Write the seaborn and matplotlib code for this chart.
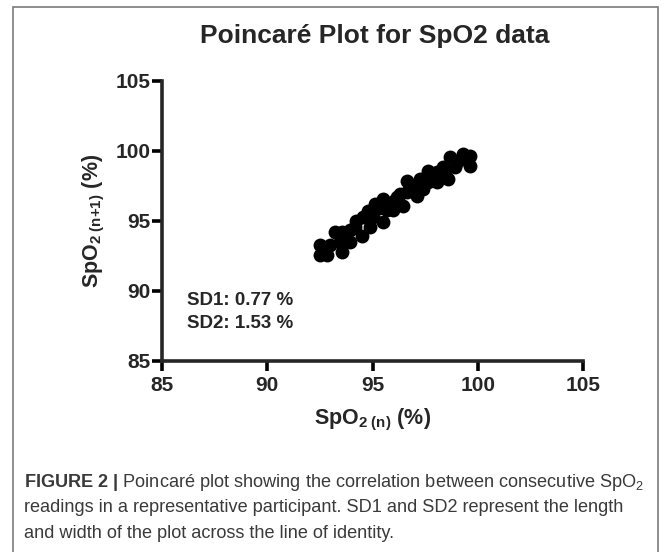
import numpy as np
import pandas as pd
import matplotlib
matplotlib.use("Agg")
import matplotlib.pyplot as plt
import matplotlib.patches as patches
import seaborn as sns

# consecutive SpO2 readings (n, n+1)
spo2_n = [92.51, 92.51, 92.84, 93.22, 93.55, 93.46, 93.93, 93.55, 94.17, 94.55,
          94.50, 94.88, 95.12, 95.50, 95.50, 95.69, 95.97, 96.16, 96.45, 96.64,
          96.64, 96.92, 97.11, 97.40, 97.64, 97.64, 98.06, 98.06, 98.35, 98.59,
          98.68, 99.01, 99.30, 99.63, 99.63, 95.02, 95.83, 96.31, 97.26, 97.87,
          98.44, 98.92, 94.79, 93.93, 94.20, 95.30, 96.00, 96.80, 97.50, 98.20,
          99.20, 93.00, 94.90]
spo2_n1 = [93.32, 92.60, 92.60, 94.25, 94.18, 93.53, 93.53, 92.81, 94.60, 95.32,
           93.90, 94.60, 96.18, 96.54, 94.96, 95.82, 95.82, 96.68, 96.04, 97.83,
           97.04, 97.47, 96.76, 97.26, 98.55, 97.76, 98.48, 97.76, 98.84, 97.97,
           99.55, 99.19, 99.77, 99.62, 98.91, 95.32, 96.18, 96.90, 97.97, 98.12,
           98.55, 98.84, 95.68, 94.39, 95.00, 95.90, 96.40, 97.20, 97.90, 98.20,
           99.40, 93.30, 95.70]
ticks = [85, 90, 95, 100, 105]
sd_labels = ["SD1: 0.77 %", "SD2: 1.53 %"]

df = pd.DataFrame({"n": spo2_n, "n1": spo2_n1})

sns.set_style("ticks")
plt.rcParams["font.family"] = ["Liberation Sans", "DejaVu Sans"]
plt.rcParams["mathtext.fontset"] = "custom"
plt.rcParams["mathtext.rm"] = "Liberation Sans"
plt.rcParams["mathtext.bf"] = "Liberation Sans:bold"
plt.rcParams["mathtext.it"] = "Liberation Sans:italic"
plt.rcParams["mathtext.default"] = "regular"

fig = plt.figure(figsize=(6.69, 5.52), dpi=100)
ax = fig.add_axes([162 / 669, 1 - 361 / 552, 421 / 669, 280 / 552])

sns.scatterplot(data=df, x="n", y="n1", ax=ax, color="black", s=100,
                linewidth=0, clip_on=False)

ax.set_xlim(85, 105)
ax.set_ylim(85, 105)
ax.set_xticks(ticks)
ax.set_yticks(ticks)
sns.despine(ax=ax)
for side in ["left", "bottom"]:
    ax.spines[side].set_linewidth(2.6)
ax.tick_params(axis="both", length=7.5, width=2.6, labelsize=15, color="black")
ax.tick_params(axis="y", pad=1)
ax.tick_params(axis="x", pad=3)
for lab in ax.get_xticklabels() + ax.get_yticklabels():
    lab.set_fontweight("bold")

ax.set_xlabel("SpO$_{2\\ (n)}$ (%)", fontsize=15.5, fontweight="bold")
ax.set_ylabel("SpO$_{2\\ (n{+}1)}$ (%)", fontsize=15.5, fontweight="bold")
ax.xaxis.set_label_coords(0.5, -0.165)
ax.yaxis.set_label_coords(-0.13, 0.5)

ax.text(0.059, 0.20, sd_labels[0], transform=ax.transAxes, fontsize=13.5,
        fontweight="bold", va="baseline")
ax.text(0.059, 0.118, sd_labels[1], transform=ax.transAxes, fontsize=13.5,
        fontweight="bold", va="baseline")

fig.text(375 / 669, 1 - 43 / 552, "Poincaré Plot for SpO2 data", fontsize=19,
         fontweight="bold", ha="center", va="baseline")

# frame around figure + caption
fig.patches.append(patches.Rectangle((12.5 / 669, -0.05), 645.5 / 669, 1.037,
                                     transform=fig.transFigure, fill=False,
                                     edgecolor="#7a7a7a", linewidth=1.2))

cap_color = "#3a3a3a"
fig.text(24 / 669, 1 - 487 / 552,
         "$\\mathbf{FIGURE\\ 2\\ |}$ Poincaré plot showing the correlation between consecutive SpO$_2$",
         fontsize=13.1, color=cap_color, va="baseline")
fig.text(24 / 669, 1 - 512.5 / 552,
         "readings in a representative participant. SD1 and SD2 represent the length",
         fontsize=13.1, color=cap_color, va="baseline")
fig.text(24 / 669, 1 - 538 / 552,
         "and width of the plot across the line of identity.",
         fontsize=13.1, color=cap_color, va="baseline")

fig.savefig("out.png", dpi=100)
